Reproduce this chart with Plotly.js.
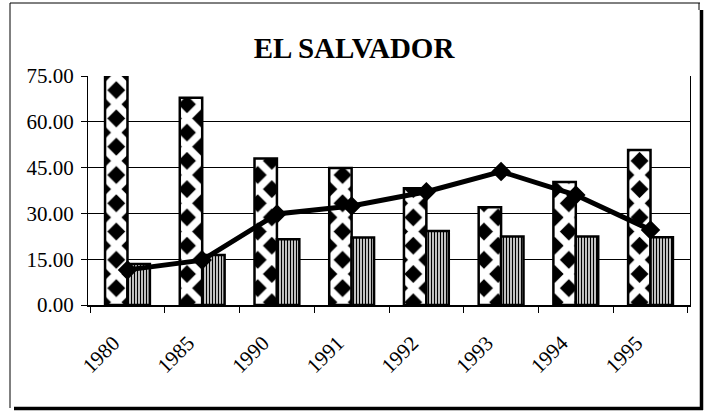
<!DOCTYPE html>
<html>
<head>
<meta charset="utf-8">
<script src="https://cdn.plot.ly/plotly-3.0.1.min.js"></script>
<style>html,body{margin:0;padding:0;background:#fff;}#chart{width:708px;height:412px;}</style>
</head>
<body>
<div id="chart"></div>
<script>
var years = ['1980', '1985', '1990', '1991', '1992', '1993', '1994', '1995'];
var seriesA = [75.7, 67.9, 48.0, 44.9, 38.2, 32.0, 40.3, 50.8];
var seriesB = [13.4, 16.4, 21.5, 22.1, 24.2, 22.4, 22.4, 22.2];
var seriesLine = [11.5, 14.7, 29.8, 32.4, 37.1, 43.7, 36.0, 24.6];
var yTicks = [0, 15, 30, 45, 60, 75];

var serif = 'Liberation Serif, Times New Roman, serif';

var traces = [
  {
    type: 'bar', x: years, y: seriesA, name: 'A', cliponaxis: false,
    marker: {
      color: 'white',
      line: {color: 'black', width: 2.5},
      pattern: {shape: 'x', bgcolor: 'black', fgcolor: 'white', size: 20, solidity: 0.6}
    }
  },
  {
    type: 'bar', x: years, y: seriesB, name: 'B',
    marker: {
      color: 'white',
      line: {color: 'black', width: 2.5},
      pattern: {shape: '|', bgcolor: 'white', fgcolor: 'black', size: 3, solidity: 0.5}
    }
  },
  {
    type: 'scatter', mode: 'lines+markers', x: years, y: seriesLine, name: 'L',
    line: {color: 'black', width: 5},
    marker: {symbol: 'diamond', size: 15, color: 'black'}
  }
];

// frame geometry in paper units (plot area: x 88..690, y 76..305 px)
function px(x) { return (x - 88) / 602; }
function py(y) { return (305 - y) / 229; }

var layout = {
  width: 708, height: 412,
  margin: {l: 88, r: 18, t: 76, b: 107},
  paper_bgcolor: 'white', plot_bgcolor: 'white',
  showlegend: false,
  barmode: 'group', bargap: 0.4, bargroupgap: 0,
  title: {
    text: '<b>EL SALVADOR</b>',
    font: {family: serif, size: 29, color: 'black'},
    x: 0.5, xref: 'container', xanchor: 'center',
    y: 0.885, yref: 'container', yanchor: 'middle'
  },
  xaxis: {
    type: 'category',
    tickangle: -45,
    tickfont: {family: serif, size: 21, color: 'black'},
    ticks: 'outside', ticklen: 6, tickcolor: 'black', tickwidth: 1,
    tickson: 'boundaries',
    ticklabelstandoff: 16,
    ticklabelshift: -14,
    showline: true, linecolor: 'black', linewidth: 1.5,
    showgrid: false, zeroline: false
  },
  yaxis: {
    range: [0, 75],
    tickvals: yTicks,
    tickformat: '.2f',
    tickfont: {family: serif, size: 21, color: 'black'},
    ticks: 'outside', ticklen: 6, tickcolor: 'black',
    ticklabelstandoff: 3,
    showline: true, mirror: true, linecolor: 'black', linewidth: 1,
    showgrid: true, gridcolor: 'black', gridwidth: 1,
    zeroline: false
  },
  shapes: [
    {type: 'line', xref: 'paper', yref: 'paper', x0: px(10), x1: px(10), y0: py(3), y1: py(408), line: {color: 'black', width: 1}},
    {type: 'line', xref: 'paper', yref: 'paper', x0: px(10), x1: px(700), y0: py(3), y1: py(3), line: {color: 'black', width: 1}},
    {type: 'line', xref: 'paper', yref: 'paper', x0: px(699), x1: px(699), y0: py(3), y1: py(10), line: {color: 'black', width: 1}},
    {type: 'line', xref: 'paper', yref: 'paper', x0: px(701.5), x1: px(701.5), y0: py(10), y1: py(410), line: {color: 'black', width: 3.5}},
    {type: 'line', xref: 'paper', yref: 'paper', x0: px(14), x1: px(703), y0: py(408.5), y1: py(408.5), line: {color: 'black', width: 3.5}}
  ]
};

Plotly.newPlot('chart', traces, layout, {staticPlot: true, displayModeBar: false});
</script>
</body>
</html>
